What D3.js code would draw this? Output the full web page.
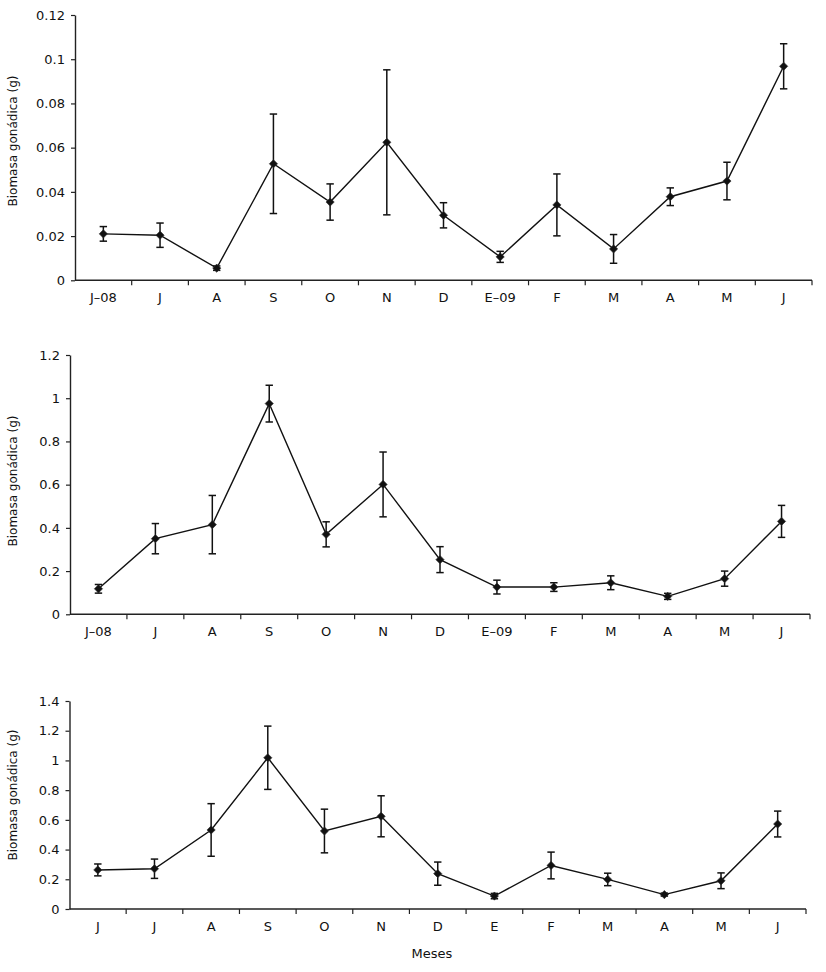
<!DOCTYPE html>
<html>
<head>
<meta charset="utf-8">
<script src="https://cdn.jsdelivr.net/npm/d3@7"></script>
<style>
  html, body { margin: 0; padding: 0; background: #fff; }
  svg { display: block; }
  text { font-family: "DejaVu Sans", sans-serif; fill: #111; }
</style>
</head>
<body>
<svg id="chart" width="826" height="972"></svg>
<script>
// ---- Data ----
const months1 = ["J–08","J","A","S","O","N","D","E–09","F","M","A","M","J"];
const months2 = ["J–08","J","A","S","O","N","D","E–09","F","M","A","M","J"];
const months3 = ["J","J","A","S","O","N","D","E","F","M","A","M","J"];

const mean1 = [0.0210, 0.0204, 0.0055, 0.0527, 0.0354, 0.0624, 0.0294, 0.0106, 0.0341, 0.0142, 0.0378, 0.0449, 0.0968];
const err1  = [0.0033, 0.0055, 0.0010, 0.0225, 0.0082, 0.0328, 0.0057, 0.0025, 0.0140, 0.0065, 0.0040, 0.0085, 0.0102];

const mean2 = [0.118, 0.350, 0.415, 0.975, 0.370, 0.601, 0.253, 0.126, 0.126, 0.146, 0.083, 0.165, 0.430];
const err2  = [0.020, 0.070, 0.135, 0.085, 0.058, 0.150, 0.060, 0.032, 0.020, 0.032, 0.014, 0.035, 0.074];

const mean3 = [0.263, 0.271, 0.532, 1.018, 0.525, 0.624, 0.238, 0.087, 0.293, 0.199, 0.097, 0.190, 0.572];
const err3  = [0.040, 0.065, 0.177, 0.213, 0.147, 0.138, 0.078, 0.018, 0.090, 0.042, 0.010, 0.053, 0.087];

const yTicks1 = [0, 0.02, 0.04, 0.06, 0.08, 0.1, 0.12];
const yTicks2 = [0, 0.2, 0.4, 0.6, 0.8, 1, 1.2];
const yTicks3 = [0, 0.2, 0.4, 0.6, 0.8, 1, 1.2, 1.4];

const yTitle = "Biomasa gonádica (g)";
const xTitle = "Meses";

// ---- Layout ----
const panels = [
  { cats: months1, mean: mean1, err: err1, ticks: yTicks1, max: 0.12, x0: 75,  x1: 812, y0: 280.3, y1: 15,  titleY: 141 },
  { cats: months2, mean: mean2, err: err2, ticks: yTicks2, max: 1.2,  x0: 70,  x1: 810, y0: 614.3, y1: 355, titleY: 481 },
  { cats: months3, mean: mean3, err: err3, ticks: yTicks3, max: 1.4,  x0: 69.5,x1: 806, y0: 909,   y1: 701, titleY: 795 }
];

const svg = d3.select("#chart");
const fmt = d => String(+d.toFixed(4));

panels.forEach((p, pi) => {
  const idx = d3.range(p.cats.length);
  const x = d3.scaleBand().domain(idx).range([p.x0, p.x1]).paddingInner(0).paddingOuter(0);
  const y = d3.scaleLinear().domain([0, p.max]).range([p.y0, p.y1]);
  const g = svg.append("g");

  // Y axis
  const yAxis = d3.axisLeft(y).tickValues(p.ticks).tickFormat(fmt).tickSizeInner(4).tickSizeOuter(0).tickPadding(6);
  const ya = g.append("g").attr("transform", `translate(${p.x0},0)`).call(yAxis);
  ya.select(".domain").attr("stroke", "#222").attr("stroke-width", 1.4);
  ya.selectAll(".tick line").attr("stroke", "#222").attr("stroke-width", 1.2);
  ya.selectAll(".tick text").attr("font-size", 13).attr("font-family", "DejaVu Sans").attr("fill", "#111");

  // X axis (ticks at category boundaries)
  const boundaries = d3.range(1, p.cats.length + 1).map(i => p.x0 + i * x.bandwidth());
  const xa = g.append("g").attr("transform", `translate(0,${p.y0})`);
  xa.append("line").attr("x1", p.x0).attr("x2", p.x1).attr("y1", 0).attr("y2", 0)
    .attr("stroke", "#222").attr("stroke-width", 1.4);
  xa.selectAll("line.tk").data(boundaries).join("line").attr("class", "tk")
    .attr("x1", d => d).attr("x2", d => d).attr("y1", 0).attr("y2", 5)
    .attr("stroke", "#222").attr("stroke-width", 1.2);
  xa.selectAll("text").data(idx).join("text")
    .attr("x", i => x(i) + x.bandwidth() / 2).attr("y", 22)
    .attr("text-anchor", "middle").attr("font-size", 13)
    .text(i => p.cats[i]);

  // Y title
  g.append("text")
    .attr("transform", `translate(17,${p.titleY}) rotate(-90)`)
    .attr("text-anchor", "middle").attr("font-size", 12)
    .text(yTitle);

  const cx = i => x(i) + x.bandwidth() / 2;

  // Error bars
  const eb = g.append("g").attr("stroke", "#111").attr("stroke-width", 1.5);
  idx.forEach(i => {
    const top = y(p.mean[i] + p.err[i]), bot = y(Math.max(0, p.mean[i] - p.err[i]));
    eb.append("line").attr("x1", cx(i)).attr("x2", cx(i)).attr("y1", top).attr("y2", bot);
    eb.append("line").attr("x1", cx(i) - 3.7).attr("x2", cx(i) + 3.7).attr("y1", top).attr("y2", top);
    eb.append("line").attr("x1", cx(i) - 3.7).attr("x2", cx(i) + 3.7).attr("y1", bot).attr("y2", bot);
  });

  // Line
  const line = d3.line().x(i => cx(i)).y(i => y(p.mean[i]));
  g.append("path").datum(idx).attr("d", line)
    .attr("fill", "none").attr("stroke", "#111").attr("stroke-width", 1.4);

  // Markers (diamonds)
  const sym = d3.symbol().type(d3.symbolSquare).size(34);
  g.selectAll("path.mk").data(idx).join("path").attr("class", "mk")
    .attr("d", sym)
    .attr("transform", i => `translate(${cx(i)},${y(p.mean[i])}) rotate(45)`)
    .attr("fill", "#111").attr("stroke", "#333").attr("stroke-width", 0.6);
});

// X title
svg.append("text").attr("x", 432).attr("y", 958)
  .attr("text-anchor", "middle").attr("font-size", 13).text(xTitle);
</script>
</body>
</html>
